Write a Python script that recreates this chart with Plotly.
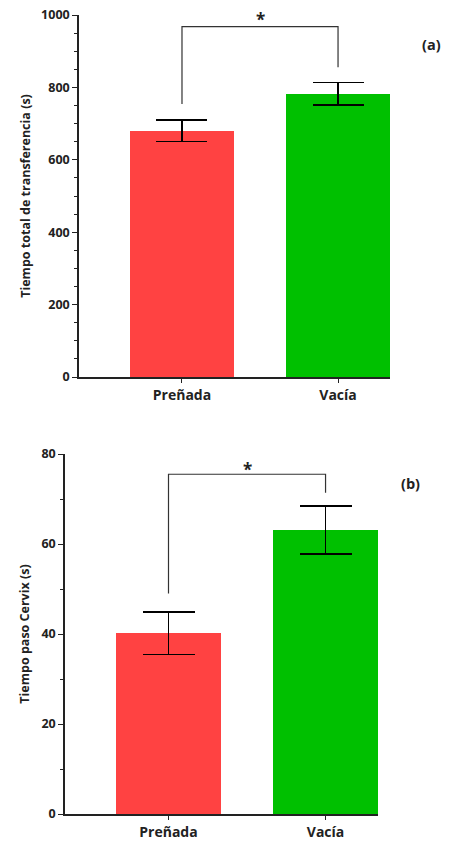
import plotly.graph_objects as go

categories = ["Preñada", "Vacía"]
colors = ["#FF4242", "#00C000"]

# Panel (a)
total_mean = [680, 782]
total_err = [30, 31]
# Panel (b)
cervix_mean = [40.2, 63.1]
cervix_err = [4.7, 5.3]

W, H = 459, 846
FONT = "Open Sans"

fig = go.Figure()

fig.add_trace(go.Bar(
    x=categories, y=total_mean, marker=dict(color=colors, line=dict(width=0)),
    width=0.667,
    error_y=dict(type="data", array=total_err, color="black", thickness=1.5, width=25.5),
    xaxis="x", yaxis="y", showlegend=False,
))
fig.add_trace(go.Bar(
    x=categories, y=cervix_mean, marker=dict(color=colors, line=dict(width=0)),
    width=0.667,
    error_y=dict(type="data", array=cervix_err, color="black", thickness=1.5, width=26),
    xaxis="x2", yaxis="y2", showlegend=False,
))

def px_x(p):
    return p / W

def px_y(p):
    return 1 - p / H

axis_common = dict(
    showline=True, linecolor="#222", linewidth=1.6, showgrid=False, zeroline=False,
    ticks="outside", tickcolor="#222", tickwidth=1.4, mirror=False, automargin=False,
    ticklabeloverflow="allow",
    tickfont=dict(family=FONT, size=12.5, color="#222", weight="bold"),
)
xfont = dict(family=FONT, size=14, color="#222", weight="bold")
tfont = dict(family=FONT, size=12.5, color="#222", weight="bold")

fig.update_layout(
    width=W, height=H, margin=dict(l=0, r=0, t=0, b=0, autoexpand=False),
    plot_bgcolor="white", paper_bgcolor="white",
    bargap=0,
    xaxis=dict(domain=[px_x(79), px_x(390)], anchor="y", range=[-0.66, 1.333],
               type="category", ticklen=4, **{**axis_common, "tickfont": xfont}),
    yaxis=dict(domain=[px_y(377), px_y(15)], anchor="x", range=[0, 1000],
               tickvals=[0, 200, 400, 600, 800, 1000], ticklen=5,
               minor=dict(dtick=50, ticklen=3, ticks="outside", tickcolor="#222", tickwidth=1.2),
               title=dict(text="Tiempo total de transferencia (s)", standoff=8, font=tfont),
               **axis_common),
    xaxis2=dict(domain=[px_x(65), px_x(378)], anchor="y2", range=[-0.659, 1.334],
                type="category", ticklen=4, **{**axis_common, "tickfont": xfont}),
    yaxis2=dict(domain=[px_y(814), px_y(454)], anchor="x2", range=[0, 80],
                tickvals=[0, 20, 40, 60, 80], ticklen=5,
                minor=dict(dtick=10, ticklen=3, ticks="outside", tickcolor="#222", tickwidth=1.2),
                title=dict(text="Tiempo paso Cervix (s)", standoff=9, font=tfont),
                **axis_common),
)

# significance brackets
br = dict(color="#333", width=1.2)
fig.add_shape(type="path", xref="x", yref="y",
              path="M 0 754 L 0 968 L 1 968 L 1 856", line=br)
fig.add_shape(type="path", xref="x2", yref="y2",
              path="M 0 49 L 0 75.5 L 1 75.5 L 1 71.4", line=br)

fig.add_annotation(x=0.5, y=988, xref="x", yref="y", text="<b>*</b>", showarrow=False,
                   font=dict(family=FONT, size=17, color="#222"), yanchor="middle")
fig.add_annotation(x=0.5, y=76.5, xref="x2", yref="y2", text="<b>*</b>", showarrow=False,
                   font=dict(family=FONT, size=17, color="#222"), yanchor="middle")

fig.add_annotation(x=px_x(443), y=px_y(33), xref="paper", yref="paper", text="<b>(a)</b>",
                   showarrow=False, font=dict(family=FONT, size=14.5, color="#222"))
fig.add_annotation(x=px_x(422), y=px_y(483), xref="paper", yref="paper", text="<b>(b)</b>",
                   showarrow=False, font=dict(family=FONT, size=14.5, color="#222"))

fig.write_html("out.html", config={"displayModeBar": False},
               post_script="document.body.style.margin='0';")
